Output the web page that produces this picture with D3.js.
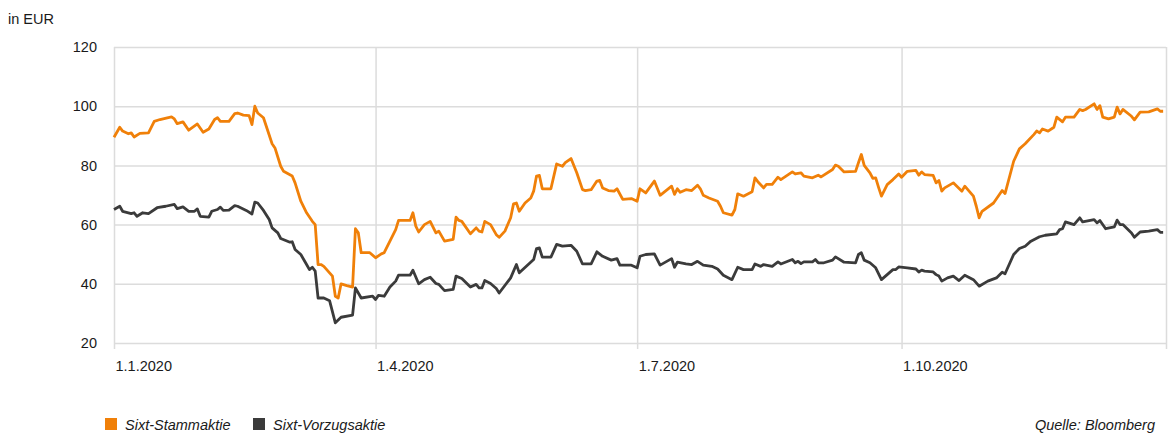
<!DOCTYPE html>
<html>
<head>
<meta charset="utf-8">
<script src="https://cdn.jsdelivr.net/npm/d3@7"></script>
<style>
  body { margin: 0; background: #fff; }
  svg { display: block; font-family: "Liberation Sans", Arial, sans-serif; }
</style>
</head>
<body>
<div id="chart"></div>
<script>
const stammDates = [
  "01-01","01-03","01-04","01-06","01-07","01-08","01-10","01-13","01-15","01-17",
  "01-21","01-22","01-23","01-25","01-27","01-30","02-01","02-03","02-05","02-06",
  "02-07","02-10","02-12","02-13","02-15","02-17","02-18","02-19","02-20","02-22",
  "02-25","02-26","02-28","02-29","03-03","03-04","03-06","03-08","03-10","03-11",
  "03-12","03-13","03-14","03-17","03-18","03-19","03-20","03-22","03-24","03-25",
  "03-26","03-27","03-30","04-01","04-03","04-04","04-06","04-08","04-09","04-13",
  "04-14","04-15","04-16","04-18","04-20","04-22","04-23","04-25","04-28","04-29",
  "04-30","05-01","05-04","05-06","05-07","05-08","05-09","05-11","05-13","05-14",
  "05-16","05-18","05-19","05-20","05-21","05-23","05-25","05-26","05-27","05-28",
  "05-29","06-01","06-03","06-05","06-06","06-08","06-10","06-12","06-13","06-15",
  "06-17","06-18","06-19","06-21","06-23","06-24","06-26","06-29","07-01","07-02",
  "07-04","07-07","07-09","07-13","07-14","07-15","07-16","07-18","07-20","07-22",
  "07-23","07-24","07-26","07-29","07-30","07-31","08-03","08-04","08-05","08-07",
  "08-10","08-11","08-12","08-14","08-15","08-17","08-19","08-20","08-24","08-25",
  "08-27","08-28","08-31","09-02","09-03","09-07","09-08","09-09","09-11","09-15",
  "09-16","09-17","09-18","09-20","09-21","09-22","09-23","09-24","09-26","09-28",
  "09-30","10-01","10-03","10-06","10-07","10-08","10-09","10-12","10-13","10-14",
  "10-15","10-16","10-19","10-22","10-23","10-26","10-27","10-28","10-29","11-02",
  "11-05","11-06","11-09","11-11","11-13","11-16","11-17","11-18","11-19","11-21",
  "11-23","11-24","11-26","11-27","11-30","12-02","12-03","12-04","12-07","12-08",
  "12-09","12-10","12-12","12-14","12-15","12-16","12-17","12-20","12-21","12-23",
  "12-26","12-29","12-30","12-31"
];
const stammValues = [
  89.5,92.9,91.6,90.7,91.0,89.6,90.8,91.0,94.9,95.5,
  96.4,95.7,94.1,94.7,91.9,94.0,91.2,92.3,95.5,96.1,
  94.9,94.9,97.5,97.7,97.0,96.8,93.8,100.0,97.7,96.1,
  87.3,85.9,79.7,78.0,76.4,74.1,67.9,64.0,61.1,60.0,
  46.5,46.5,45.9,42.6,35.8,35.2,40.0,39.4,38.9,58.6,
  57.2,50.5,50.5,48.8,50.1,50.5,54.4,58.3,61.4,61.4,
  64.0,59.5,57.5,60.0,61.1,57.2,57.8,54.4,55.0,62.5,
  61.4,61.1,56.9,58.9,57.8,57.5,61.1,60.0,56.6,55.7,
  57.8,62.3,67.0,67.3,64.5,67.3,69.0,71.3,76.4,76.6,
  72.1,72.1,80.5,79.7,80.9,82.3,77.5,71.8,71.5,71.8,
  74.7,74.9,72.4,71.5,71.3,72.1,68.5,68.8,67.9,72.1,
  70.7,74.7,69.9,73.0,70.2,72.1,70.9,71.8,71.5,73.3,
  72.1,69.9,69.0,67.9,66.2,64.0,63.2,65.1,70.4,69.6,
  71.1,75.8,74.5,72.4,73.6,73.6,76.0,75.2,77.8,77.1,
  77.5,76.4,75.8,76.7,76.1,78.6,80.1,79.7,77.8,78.0,
  80.9,83.7,80.0,77.5,75.6,75.8,72.6,69.6,73.5,75.2,
  77.1,76.0,78.0,78.3,76.7,77.8,76.9,76.6,74.1,74.9,
  71.3,72.4,74.1,71.3,73.0,69.6,66.2,62.3,64.5,67.3,
  71.5,70.5,81.4,85.6,87.3,90.4,91.6,91.0,92.3,91.6,
  92.9,96.3,94.7,96.3,96.3,98.9,98.5,98.9,100.8,98.9,
  100.2,96.3,95.7,96.3,99.7,97.4,98.9,96.6,95.4,98.0,
  98.1,99.1,98.3,98.3
];

const vorzDates = [
  "01-01","01-03","01-04","01-07","01-08","01-09","01-11","01-13","01-16","01-19",
  "01-22","01-23","01-25","01-27","01-29","01-30","01-31","02-03","02-04","02-06",
  "02-07","02-08","02-10","02-12","02-13","02-16","02-18","02-19","02-20","02-22",
  "02-24","02-25","02-27","02-28","03-02","03-03","03-04","03-06","03-08","03-09",
  "03-10","03-11","03-12","03-14","03-16","03-18","03-20","03-24","03-25","03-27",
  "03-31","04-01","04-02","04-04","04-06","04-08","04-09","04-13","04-14","04-16",
  "04-18","04-20","04-22","04-23","04-25","04-28","04-29","05-01","05-04","05-06",
  "05-07","05-08","05-09","05-11","05-13","05-14","05-18","05-20","05-21","05-26",
  "05-27","05-28","05-29","06-01","06-03","06-05","06-08","06-10","06-12","06-15",
  "06-17","06-19","06-22","06-24","06-25","06-29","07-01","07-02","07-04","07-07",
  "07-09","07-13","07-14","07-15","07-18","07-20","07-22","07-24","07-27","07-29",
  "07-31","08-03","08-05","08-07","08-10","08-11","08-13","08-14","08-17","08-19",
  "08-20","08-24","08-25","08-26","08-27","08-28","08-31","09-01","09-02","09-04",
  "09-07","09-08","09-11","09-15","09-16","09-17","09-18","09-20","09-22","09-24",
  "09-26","09-28","09-29","09-30","10-03","10-06","10-07","10-08","10-09","10-12",
  "10-13","10-14","10-15","10-17","10-19","10-21","10-23","10-26","10-28","10-31",
  "11-03","11-05","11-06","11-09","11-11","11-13","11-15","11-18","11-20","11-24",
  "11-25","11-26","11-27","11-30","12-02","12-03","12-07","12-08","12-09","12-11",
  "12-14","12-15","12-16","12-17","12-20","12-21","12-23","12-26","12-29","12-30",
  "12-31"
];
const vorzValues = [
  65.1,66.2,64.5,63.7,64.0,62.8,64.0,63.7,65.7,66.2,
  66.8,65.4,66.0,64.5,64.5,65.3,62.8,62.5,64.5,65.1,
  65.9,64.8,64.9,66.4,66.2,64.8,63.6,67.6,67.3,64.8,
  61.7,58.9,57.2,55.3,54.1,54.2,51.6,49.9,46.5,44.8,
  45.6,44.3,35.2,35.2,34.3,26.8,28.7,29.4,38.6,35.2,
  35.8,34.7,36.1,35.8,38.9,40.9,42.9,42.9,44.6,40.0,
  41.4,42.2,40.1,39.8,37.7,38.1,42.6,41.8,38.9,39.8,
  38.6,38.6,41.1,40.1,38.4,36.9,42.0,46.5,43.7,48.2,
  51.9,52.1,49.0,49.0,53.3,52.7,53.0,51.0,46.7,46.7,
  50.8,49.3,48.0,48.5,46.3,46.3,45.4,49.3,49.9,50.1,
  46.3,48.5,45.6,47.3,46.7,46.5,47.6,46.3,45.9,45.0,
  42.9,41.4,45.6,44.8,44.8,46.7,45.9,46.5,45.9,47.4,
  46.7,48.2,47.1,47.6,46.8,47.4,47.4,48.2,47.1,47.1,
  48.0,49.1,47.3,47.1,49.9,50.5,48.0,47.1,45.4,41.4,
  43.1,44.8,44.8,45.7,45.4,45.0,44.0,44.6,44.3,44.0,
  43.1,42.6,40.9,42.0,42.6,41.1,42.9,41.4,39.2,40.9,
  42.0,43.9,43.4,49.9,51.9,52.7,54.4,55.9,56.4,56.9,
  58.3,58.6,60.9,60.0,62.3,60.9,61.7,60.6,61.4,58.6,
  59.2,61.5,60.0,60.0,57.2,55.7,57.5,57.8,58.3,57.4,
  57.4
];

const yTicks = [20, 40, 60, 80, 100, 120];
const xTickDates = ["2020-01-01", "2020-04-01", "2020-07-01", "2020-10-01"];
const seriesNames = ["Sixt-Stammaktie", "Sixt-Vorzugsaktie"];
const seriesColors = ["#f08009", "#3b3b3b"];

const width = 1171, height = 434;
const margin = { left: 114, right: 5, top: 47, bottom: 91 };
const plotW = width - margin.left - margin.right;
const plotH = height - margin.top - margin.bottom;

const parse = d3.timeParse("%Y-%m-%d");
const toRows = (dates, values) => dates.map((d, i) => ({ date: parse("2020-" + d), value: values[i] }));
const series = [toRows(stammDates, stammValues), toRows(vorzDates, vorzValues)];

const svg = d3.select("#chart").append("svg")
    .attr("width", width)
    .attr("height", height);

const x = d3.scaleTime()
    .domain([parse("2020-01-01"), parse("2021-01-01")])
    .range([margin.left, margin.left + plotW]);
const y = d3.scaleLinear()
    .domain([20, 120])
    .range([margin.top + plotH, margin.top]);

// horizontal grid + y labels
const yAxis = svg.append("g")
    .attr("transform", `translate(${margin.left},0)`)
    .call(d3.axisLeft(y).tickValues(yTicks).tickSize(-plotW).tickPadding(17).tickFormat(d3.format("d")));
yAxis.select(".domain").remove();
yAxis.selectAll(".tick line").attr("stroke", "#dcdcdc").attr("stroke-width", 1.5);
yAxis.selectAll(".tick text")
    .attr("fill", "#1a1a1a")
    .style("font-size", "14.5px");

// vertical grid + date labels
const xVals = xTickDates.map(parse).concat([parse("2021-01-01")]);
const xAxis = svg.append("g")
    .attr("transform", `translate(0,${margin.top + plotH + 6})`)
    .call(d3.axisBottom(x).tickValues(xVals).tickSize(-(plotH + 6)).tickFormat(d => d.getFullYear() === 2021 ? "" : `${d.getDate()}.${d.getMonth() + 1}.${d.getFullYear()}`));
xAxis.select(".domain").remove();
xAxis.selectAll(".tick line").attr("stroke", "#dcdcdc").attr("stroke-width", 1.5);
xAxis.selectAll(".tick text")
    .attr("text-anchor", "start")
    .attr("x", 1)
    .attr("y", 12)
    .attr("fill", "#1a1a1a")
    .style("font-size", "14.5px");

// lines
const line = d3.line()
    .x(d => x(d.date))
    .y(d => y(d.value));

svg.selectAll("path.series")
    .data(series)
    .enter()
    .append("path")
    .attr("class", "series")
    .attr("d", line)
    .attr("fill", "none")
    .attr("stroke", (d, i) => seriesColors[i])
    .attr("stroke-width", 2.8)
    .attr("stroke-linejoin", "round");

// unit label
svg.append("text")
    .attr("x", 8)
    .attr("y", 24)
    .attr("fill", "#1a1a1a")
    .style("font-size", "14.5px")
    .text("in EUR");

// legend
const legendX = [105, 253];
const legend = svg.selectAll("g.legend")
    .data(seriesNames)
    .enter()
    .append("g")
    .attr("class", "legend")
    .attr("transform", (d, i) => `translate(${legendX[i]},418)`);
legend.append("rect")
    .attr("width", 12)
    .attr("height", 12)
    .attr("fill", (d, i) => seriesColors[i]);
legend.append("text")
    .attr("x", 20)
    .attr("y", 12)
    .attr("fill", "#1a1a1a")
    .style("font-size", "14.5px")
    .style("font-style", "italic")
    .text(d => d);

// source
svg.append("text")
    .attr("x", 1155)
    .attr("y", 430)
    .attr("text-anchor", "end")
    .attr("fill", "#1a1a1a")
    .style("font-size", "14.5px")
    .style("font-style", "italic")
    .text("Quelle: Bloomberg");
</script>
</body>
</html>
